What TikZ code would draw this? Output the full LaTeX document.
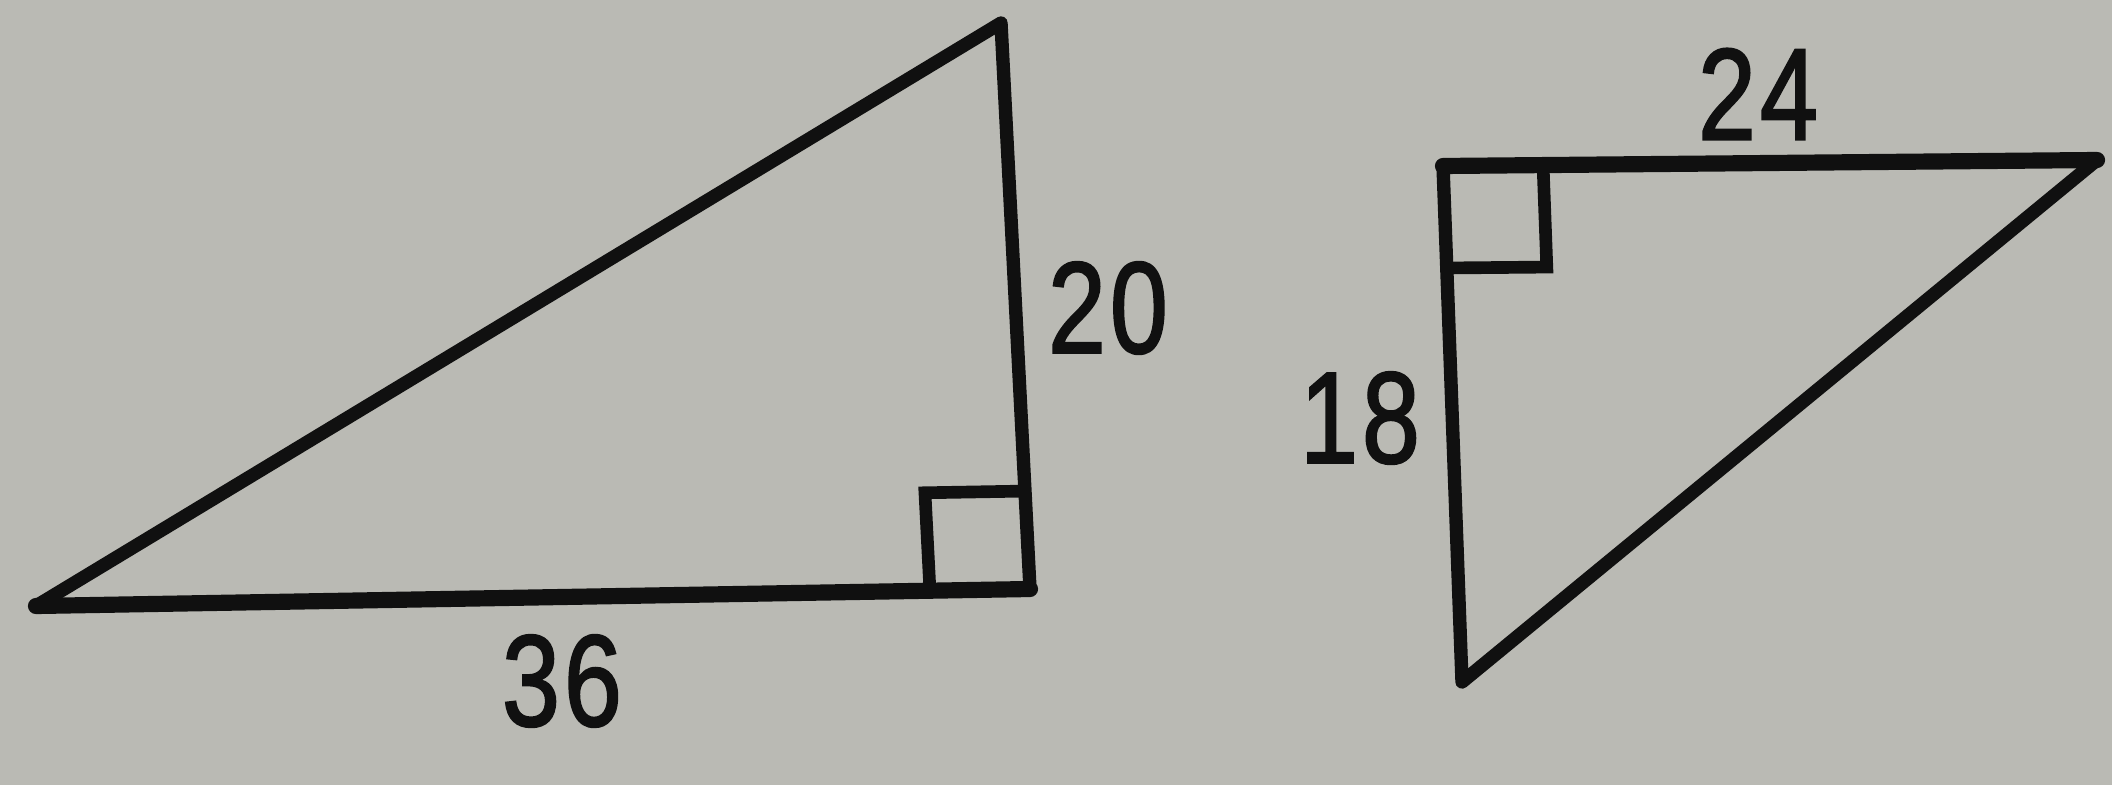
\documentclass[tikz,border=0pt]{standalone}
\usepackage{fontspec}
\setmainfont{Liberation Sans}
\newfontfamily\digfont[FakeBold=1.8]{Liberation Sans}
\usetikzlibrary{calc}
\definecolor{paper}{RGB}{186,186,180}
\definecolor{ink}{RGB}{16,16,16}
\begin{document}
\begin{tikzpicture}[x=0.01cm,y=-0.01cm,
  side/.style={draw=ink,line width=3.8pt,line join=round},
  thick side/.style={draw=ink,line width=4.6pt,line cap=round},
  rightmark/.style={draw=ink,line width=3.6pt,line join=miter},
  lbl/.style={text=ink,inner sep=0pt,font=\digfont\fontsize{37}{40}\selectfont}]
\fill[paper] (0,0) rectangle (2112,785);
\useasboundingbox (0,0) rectangle (2112,785);
% left triangle
\coordinate (L) at (36,606);
\coordinate (T) at (1001,23);
\coordinate (R) at (1030,589);
\draw[side] (L) -- (T) -- (R) -- cycle;
\draw[thick side] (L) -- (R);
\coordinate (ra) at ($(R)!1.0cm!(L)$);
\coordinate (rb) at ($(R)!0.98cm!(T)$);
\draw[rightmark] (ra) -- ($(ra)+(rb)-(R)$) -- (rb);
\node[lbl] (n36) at (562,681) {\scalebox{0.8}[1]{3\kern0.04em6}};
\node[lbl] (n20) at (1108,308) {\scalebox{0.8}[1]{2\kern0.04em0}};
% right triangle
\coordinate (A) at (1443,166);
\coordinate (B) at (2097,160);
\coordinate (C) at (1462,682);
\draw[side] (A) -- (B) -- (C) -- cycle;
\draw[thick side] (A) -- (B);
\coordinate (sa) at ($(A)!1.0cm!(B)$);
\coordinate (sb) at ($(A)!1.02cm!(C)$);
\draw[rightmark] (sa) -- ($(sa)+(sb)-(A)$) -- (sb);
\node[lbl] (n24) at (1758,94) {\scalebox{0.8}[1]{2\kern0.04em4}};
\node[lbl] (n18) at (1360,418) {\scalebox{0.8}[1]{1\kern0.04em8}};
\end{tikzpicture}
\end{document}
